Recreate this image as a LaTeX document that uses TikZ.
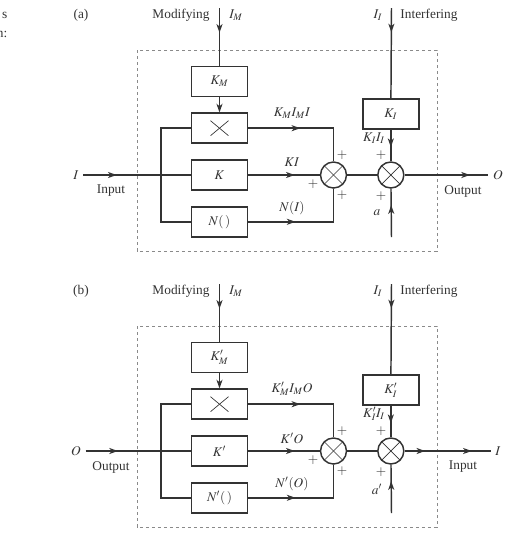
\documentclass[tikz,border=0pt]{standalone}
\usepackage{mathptmx}
\usepackage{fontspec}
\setmainfont{Liberation Serif}
\usetikzlibrary{%
    arrows.meta,
    decorations.markings,
    positioning
}
\definecolor{inkgray}{HTML}{333333}
\definecolor{framegray}{HTML}{8A8A8A}
\tikzset{headtip/.tip = {Stealth[length=6.5pt,width=4.5pt,inset=1.8pt]}}
\tikzset{%
    blockbox/.style = {draw, line width=1.1pt, minimum width=42pt, minimum height=22.5pt, inner sep=0pt},
    mulbox/.style = {blockbox, path picture={%
        \draw[line width=0.5pt] ([shift={(-9,-7.5)}]path picture bounding box.center) -- ([shift={(9,7.5)}]path picture bounding box.center);
        \draw[line width=0.5pt] ([shift={(-9,7.5)}]path picture bounding box.center) -- ([shift={(9,-7.5)}]path picture bounding box.center);}},
    summer/.style = {draw, circle, line width=1.1pt, minimum size=19.5pt, inner sep=0pt, path picture={%
        \draw[line width=0.5pt] (path picture bounding box.north west) -- (path picture bounding box.south east);
        \draw[line width=0.5pt] (path picture bounding box.south west) -- (path picture bounding box.north east);}},
    signal/.style = {line width=1.1pt},
    midarrow/.style = {postaction=decorate, decoration={markings, mark=at position #1 with {\arrow{headtip}}}},
    sign/.style = {inner sep=0pt}
}

\begin{document}
\begin{tikzpicture}[x=0.75pt, y=-0.75pt, color=inkgray]
    \useasboundingbox (0,0) rectangle (516,537);
    % words cut off at the left margin
    \node[anchor=east, inner sep=0pt] (edge-s) at (7.5,15) {s};
    \node[anchor=east, inner sep=0pt] (edge-n) at (7.5,34) {n:};

    \foreach \p/\dy/\inS/\inT/\outS/\outT/\km/\kk/\nn/\ki/\prodL/\linL/\nL/\kiL/\aL in {%
        a/0/I/Input/O/Output/K_M/K/N(\,)/K_I/K_MI_MI/KI/N(I)/K_II_I/a,
        b/276/O/Output/I/Input/K'_M/K'/N'(\,)/K'_I/K'_MI_MO/K'O/N'(O)/K'_II_I/a'}
        {
        \node (\p-tag) at (81,{15+\dy}) {(\p)};
        \node (\p-modtxt) at (181,{15+\dy}) {Modifying};
        \node (\p-modsym) at (236,{15+\dy}) {$I_M$};
        \node (\p-intsym) at (378,{15+\dy}) {$I_I$};
        \node (\p-inttxt) at (429,{15+\dy}) {Interfering};
        \coordinate (\p-modtop) at (219.5,{8+\dy});
        \coordinate (\p-inttop) at (391.5,{8+\dy});
        \coordinate (\p-abot) at (391.5,{237+\dy});
        \coordinate (\p-split) at (161,{175+\dy});

        \draw[framegray, line width=0.7pt, dash pattern=on 2.6pt off 1.9pt] (137,{50+\dy}) rectangle (437,{251+\dy});

        \node[blockbox] (\p-k) at (219.5,{175+\dy}) {$\kk$};
        \node[mulbox] (\p-mul) [above=11.5pt of \p-k] {};
        \node[blockbox] (\p-km) [above=11.5pt of \p-mul] {$\km$};
        \node[blockbox] (\p-nl) [below=11.5pt of \p-k] {$\nn$};
        \node[summer] (\p-s1) at (333.5,{175+\dy}) {};
        \node[summer] (\p-s2) [right=22.4pt of \p-s1] {};
        \node[blockbox] (\p-ki) [above=23.6pt of \p-s2] {$\ki$};

        \node (\p-in) at (76,{175+\dy}) {$\inS$};
        \node (\p-intxt) at (111,{191+\dy}) {\inT};
        \node (\p-out) at (498,{175+\dy}) {$\outS$};
        \node (\p-outtxt) at (463,{191+\dy}) {\outT};

        \node (\p-prodlbl) at (292,{113+\dy}) {$\prodL$};
        \node (\p-linlbl) at (292,{162+\dy}) {$\linL$};
        \node (\p-nlbl) at (292,{208+\dy}) {$\nL$};
        \node (\p-kilbl) at (374,{138+\dy}) {$\kiL$};
        \node (\p-albl) at (377,{213+\dy}) {$\aL$};

        \node[sign] (\p-p1) at (342,{155+\dy}) {$+$};
        \node[sign] (\p-p2) at (313,{184+\dy}) {$+$};
        \node[sign] (\p-p3) at (342,{195+\dy}) {$+$};
        \node[sign] (\p-p4) at (381,{155+\dy}) {$+$};
        \node[sign] (\p-p5) at (381,{196+\dy}) {$+$};

        \draw[signal, midarrow=0.43] (\p-modtop) -- (\p-km);
        \draw[signal, -headtip] (\p-km) -- (\p-mul);
        \draw[signal, midarrow=0.27] (\p-inttop) -- (\p-ki);
        \draw[signal, midarrow=0.55] (\p-ki) -- (\p-s2);
        \draw[signal, midarrow=0.43] (\p-in) -- (\p-split);
        \draw[signal] (\p-mul.west) -| (\p-split) |- (\p-nl.west);
        \draw[signal] (\p-split) -- (\p-k);
        \draw[signal, midarrow=0.44] (\p-mul) -| (\p-s1);
        \draw[signal, midarrow=0.65] (\p-k) -- (\p-s1);
        \draw[signal, midarrow=0.4] (\p-nl) -| (\p-s1);
        \draw[signal] (\p-s1) -- (\p-s2);
        \draw[signal, midarrow=0.78] (\p-s2) -- (\p-out);
        \draw[signal, midarrow=0.66] (\p-abot) -- (\p-s2);
        }
    \draw[signal, midarrow=0.24] (b-s2) -- (b-out);
\end{tikzpicture}
\end{document}
